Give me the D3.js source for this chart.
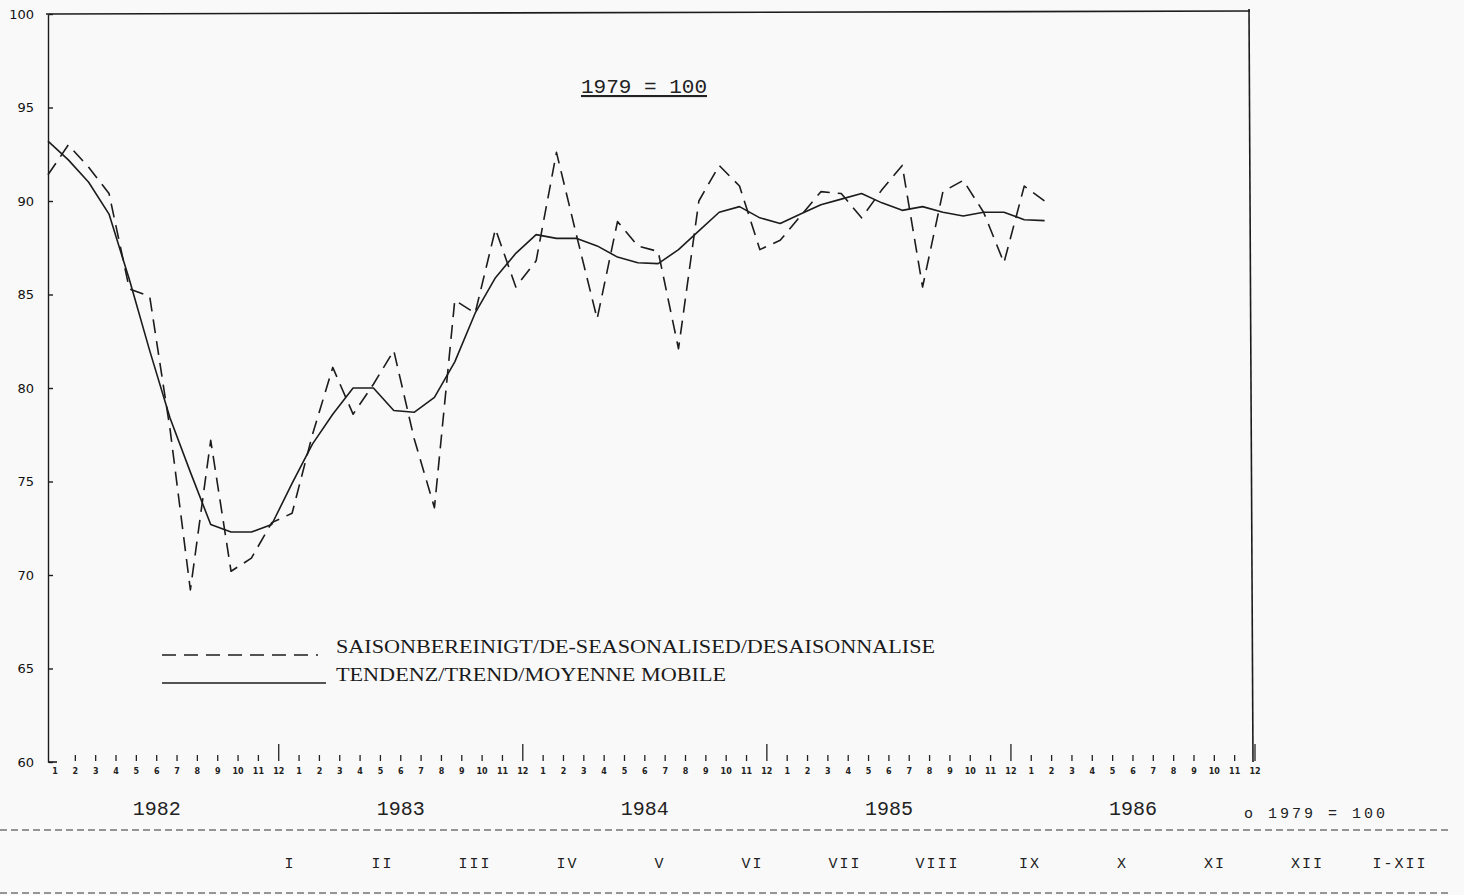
<!DOCTYPE html>
<html>
<head>
<meta charset="utf-8">
<script src="https://cdn.jsdelivr.net/npm/d3@7"></script>
<style>
	html, body { margin: 0; padding: 0; background: #f9f9f9; }
	svg { display: block; }
	.series { fill: none; stroke: #1c1c1c; stroke-width: 1.6; stroke-linejoin: round; }
	.seasonal { stroke-dasharray: 14 8; }
	.frame { stroke: #1c1c1c; stroke-width: 1.6; fill: none; }
	.value-axis text { font-family: "DejaVu Sans", sans-serif; font-size: 13px; fill: #111; }
	.value-axis path, .value-axis line { stroke: #1c1c1c; stroke-width: 1.4; }
	.month-tick { stroke: #222; stroke-width: 1.3; }
	.month-label { font-family: "DejaVu Sans", sans-serif; font-weight: bold; font-size: 8px; fill: #222; }
	.year-label { font-family: "Liberation Mono", monospace; font-size: 20px; fill: #222; }
	.title { font-family: "Liberation Mono", monospace; font-size: 21px; fill: #222; text-decoration: underline; }
	.legend-text { font-family: "Liberation Serif", serif; font-size: 19px; fill: #1a1a1a; }
	.mono-small { font-family: "Liberation Mono", monospace; font-size: 15px; letter-spacing: 2px; fill: #222; }
	.note { letter-spacing: 3px; }
	.rule { stroke: #333; stroke-width: 1.2; stroke-dasharray: 7 4; }
</style>
</head>
<body>
<div id="chart"></div>
<script>
(function() {
	"use strict";

	var years = [1982, 1983, 1984, 1985, 1986];
	var monthLabels = ['1', '2', '3', '4', '5', '6', '7', '8', '9', '10', '11', '12'];
	var valueTicks = [60, 65, 70, 75, 80, 85, 90, 95, 100];

	// monthly values from 1982-01 to 1986-02
	var seasonal = [91.4, 93.0, 91.8, 90.4, 85.3, 84.9, 77.8, 69.2, 77.2, 70.2, 70.9, 72.8,
		73.3, 77.5, 81.1, 78.6, 80.2, 82.0, 77.3, 73.6, 84.7, 84.0, 88.5, 85.4,
		86.8, 92.6, 88.1, 83.7, 88.9, 87.6, 87.3, 82.1, 90.0, 91.9, 90.8, 87.4,
		87.9, 89.2, 90.5, 90.4, 89.1, 90.6, 91.9, 85.4, 90.5, 91.1, 89.4, 86.7,
		90.8, 90.0];
	var trend = [93.2, 92.2, 91.0, 89.3, 85.8, 82.0, 78.4, 75.5, 72.7, 72.3, 72.3, 72.7,
		74.9, 77.0, 78.6, 80.0, 80.0, 78.8, 78.7, 79.5, 81.4, 84.0, 85.9, 87.2,
		88.2, 88.0, 88.0, 87.6, 87.0, 86.7, 86.65, 87.4, 88.4, 89.4, 89.7, 89.1,
		88.8, 89.3, 89.8, 90.1, 90.4, 89.9, 89.5, 89.7, 89.4, 89.2, 89.4, 89.4,
		89.0, 88.95];

	var periodLabels = ['I', 'II', 'III', 'IV', 'V', 'VI', 'VII', 'VIII', 'IX', 'X', 'XI', 'XII', 'I-XII'];
	var legendLabels = ['SAISONBEREINIGT/DE-SEASONALISED/DESAISONNALISE', 'TENDENZ/TREND/MOYENNE MOBILE'];
	var baseLabel = '1979 = 100';

	var width = 1464, height = 895;
	var monthCount = years.length * 12;

	var svg = d3.select('#chart')
		.append('svg')
		.attr('width', width)
		.attr('height', height);

	var x = d3.scaleLinear().domain([0, monthCount - 1]).range([48, 1248]);
	var xTick = d3.scaleLinear().domain([0, monthCount - 1]).range([55, 1255]);
	var y = d3.scaleLinear().domain([60, 100]).range([762, 14]);

	drawFrame(svg, x, y);
	drawValueAxis(svg, x, y);
	drawMonthAxis(svg, xTick, y);
	drawSeries(svg, x, y);
	drawTitle(svg);
	drawLegend(svg);
	drawFooter(svg);

	function drawFrame(svg, x, y) {
		svg.append('line')
			.classed('frame', true)
			.attr('x1', x(0) - 2).attr('y1', y(100))
			.attr('x2', x(monthCount - 1) + 2).attr('y2', y(100) - 3);
		svg.append('line')
			.classed('frame', true)
			.attr('x1', x(monthCount - 1) + 1).attr('y1', y(100) - 5)
			.attr('x2', x(monthCount - 1) + 5).attr('y2', y(60));
		svg.append('line')
			.classed('frame', true)
			.attr('x1', x(0)).attr('y1', y(60))
			.attr('x2', x(0) + 9).attr('y2', y(60));
	}

	function drawValueAxis(svg, x, y) {
		svg.append('g')
			.classed('value-axis', true)
			.attr('transform', 'translate(' + x(0) + ',0)')
			.call(d3.axisLeft(y).tickValues(valueTicks).tickSize(-5).tickSizeOuter(0).tickPadding(14))
			.selectAll('.tick line')
			.attr('x1', 1);
	}

	function drawMonthAxis(svg, xTick, y) {
		var base = y(60);
		var ticks = svg.append('g').selectAll('g')
			.data(d3.range(monthCount))
			.enter()
			.append('g')
			.attr('transform', function (i) { return 'translate(' + xTick(i) + ',0)'; });

		ticks.filter(function (i) { return i > 0; })
			.append('line')
			.classed('month-tick', true)
			.attr('x1', 0).attr('x2', 0)
			.attr('y1', function (i) { return i % 12 === 11 ? base - 18 : base - 7; })
			.attr('y2', base - 1);

		ticks.append('text')
			.classed('month-label', true)
			.attr('y', base + 12)
			.attr('text-anchor', 'middle')
			.text(function (i) { return monthLabels[i % 12]; });

		svg.append('g').selectAll('text')
			.data(years)
			.enter()
			.append('text')
			.classed('year-label', true)
			.attr('x', function (d, i) { return xTick(i * 12 + 5); })
			.attr('y', base + 53)
			.attr('text-anchor', 'middle')
			.text(function (d) { return d; });
	}

	function drawSeries(svg, x, y) {
		var line = d3.line()
			.x(function (d, i) { return x(i); })
			.y(function (d) { return y(d); });

		svg.append('path')
			.datum(trend)
			.classed('series', true)
			.attr('d', line);

		svg.append('path')
			.datum(seasonal)
			.classed('series seasonal', true)
			.attr('d', line);
	}

	function drawTitle(svg) {
		svg.append('text')
			.classed('title', true)
			.attr('x', 644)
			.attr('y', 93)
			.attr('text-anchor', 'middle')
			.text(baseLabel);
	}

	function drawLegend(svg) {
		svg.append('line')
			.classed('series seasonal', true)
			.attr('x1', 162).attr('y1', 655)
			.attr('x2', 318).attr('y2', 655);
		svg.append('line')
			.classed('series', true)
			.attr('x1', 162).attr('y1', 683)
			.attr('x2', 326).attr('y2', 683);

		svg.selectAll('.legend-text')
			.data(legendLabels)
			.enter()
			.append('text')
			.classed('legend-text', true)
			.attr('x', 336)
			.attr('y', function (d, i) { return 653 + i * 28; })
			.attr('textLength', function (d, i) { return i === 0 ? 599 : 390; })
			.attr('lengthAdjust', 'spacingAndGlyphs')
			.text(function (d) { return d; });
	}

	function drawFooter(svg) {
		svg.append('text')
			.classed('mono-small note', true)
			.attr('x', 1244)
			.attr('y', 818)
			.text('o  ' + baseLabel);

		svg.append('line')
			.classed('rule', true)
			.attr('x1', 0).attr('y1', 830)
			.attr('x2', 1452).attr('y2', 830);
		svg.append('line')
			.classed('rule', true)
			.attr('x1', 0).attr('y1', 893)
			.attr('x2', 1452).attr('y2', 893);

		var period = d3.scalePoint().domain(periodLabels).range([290, 1400]);

		svg.append('g').selectAll('text')
			.data(periodLabels)
			.enter()
			.append('text')
			.classed('mono-small', true)
			.attr('x', function (d) { return period(d); })
			.attr('y', 868)
			.attr('text-anchor', 'middle')
			.text(function (d) { return d; });
	}
}());
</script>
</body>
</html>
